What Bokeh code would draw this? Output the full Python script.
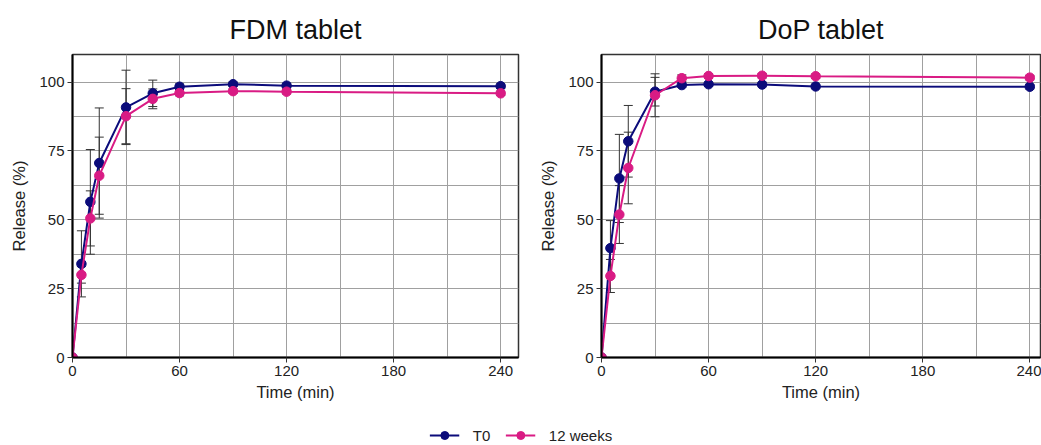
from bokeh.plotting import figure
from bokeh.models import (ColumnDataSource, Whisker, TeeHead, FixedTicker, Range1d,
                          Legend, LegendItem)
from bokeh.layouts import column, row
from bokeh.embed import file_html
from bokeh.resources import INLINE

# ---- data ----
time_min = [0, 5, 10, 15, 30, 45, 60, 90, 120, 240]

fdm_t0 = [0, 34.0, 56.5, 70.6, 90.8, 95.9, 98.3, 99.2, 98.7, 98.5]
fdm_t0_sd = [0, 12.0, 19.0, 20.0, 13.5, 4.8, 1.0, 0.8, 0.8, 0.8]
fdm_12w = [0, 30.0, 50.5, 66.0, 87.6, 93.9, 96.0, 96.7, 96.5, 95.9]
fdm_12w_sd = [0, 3.0, 10.0, 14.0, 10.0, 3.6, 1.0, 0.8, 0.8, 0.8]

dop_t0 = [0, 39.7, 65.0, 78.5, 96.5, 98.9, 99.2, 99.1, 98.4, 98.3]
dop_t0_sd = [0, 10.0, 16.0, 13.0, 5.2, 0.8, 0.8, 0.8, 0.8, 0.8]
dop_12w = [0, 29.6, 51.9, 68.8, 95.2, 101.4, 102.2, 102.3, 102.1, 101.6]
dop_12w_sd = [0, 6.0, 10.5, 13.0, 7.8, 1.2, 0.8, 0.8, 0.8, 0.8]

series_names = ["T0", "12 weeks"]
series_colors = ["#0b0b7a", "#d91b84"]
x_ticks = [0, 60, 120, 180, 240]
y_ticks = [0, 25, 50, 75, 100]
x_grid = [30, 60, 90, 120, 150, 180, 210, 240]
y_grid = [12.5, 25, 37.5, 50, 62.5, 75, 87.5, 100]

FONT = "Liberation Sans"


def make_panel(title, t0, t0_sd, w12, w12_sd, width, x_end, left, right):
    p = figure(width=width, height=410, output_backend="svg", toolbar_location=None,
               x_range=Range1d(0, x_end), y_range=Range1d(0, 110),
               min_border_left=left, min_border_right=right,
               min_border_top=54, min_border_bottom=53)
    p.title.text = title
    p.title.align = "center"
    p.title.text_font = FONT
    p.title.text_font_size = "27px"
    p.title.text_font_style = "normal"
    p.title.text_color = "#111111"
    p.title.standoff = 20

    p.xaxis.ticker = FixedTicker(ticks=x_ticks)
    p.yaxis.ticker = FixedTicker(ticks=y_ticks)
    p.xgrid.ticker = FixedTicker(ticks=x_grid)
    p.ygrid.ticker = FixedTicker(ticks=y_grid)
    for g in (p.xgrid, p.ygrid):
        g.grid_line_color = "#a0a0a0"
        g.grid_line_width = 1
    for ax in (p.xaxis, p.yaxis):
        ax.axis_line_color = "#000000"
        ax.axis_line_width = 2
        ax.major_tick_line_color = "#333333"
        ax.major_tick_out = 5
        ax.major_tick_in = 0
        ax.minor_tick_line_color = None
        ax.major_label_text_font = FONT
        ax.major_label_text_font_size = "15px"
        ax.major_label_text_color = "#222222"
        ax.axis_label_text_font = FONT
        ax.axis_label_text_font_size = "16.5px"
        ax.axis_label_text_font_style = "normal"
        ax.axis_label_text_color = "#222222"
        ax.major_label_standoff = 3
    p.xaxis.axis_label = "Time (min)"
    p.yaxis.axis_label = "Release (%)"
    p.xaxis.axis_label_standoff = 4
    p.yaxis.axis_label_standoff = 8
    p.outline_line_color = "#333333"
    p.outline_line_width = 1.5

    for vals, sd, col in ((t0, t0_sd, series_colors[0]), (w12, w12_sd, series_colors[1])):
        src = ColumnDataSource(dict(x=time_min, y=vals,
                                    lo=[v - s for v, s in zip(vals, sd)],
                                    hi=[v + s for v, s in zip(vals, sd)]))
        wh = Whisker(source=src, base="x", lower="lo", upper="hi",
                     line_color="#333333", line_width=1,
                     upper_head=TeeHead(size=9, line_color="#333333", line_width=1),
                     lower_head=TeeHead(size=9, line_color="#333333", line_width=1))
        p.add_layout(wh)
        p.line("x", "y", source=src, line_color=col, line_width=2)
        p.scatter("x", "y", source=src, size=9.5, fill_color=col, line_color=col)
    return p


p1 = make_panel("FDM tablet", fdm_t0, fdm_t0_sd, fdm_12w, fdm_12w_sd,
                width=530, x_end=250, left=72, right=12)
p2 = make_panel("DoP tablet", dop_t0, dop_t0_sd, dop_12w, dop_12w_sd,
                width=511, x_end=246, left=71, right=1)

# legend strip
pl = figure(width=1041, height=35, output_backend="svg", toolbar_location=None,
            x_range=Range1d(0, 1), y_range=Range1d(0, 1),
            min_border=0)
pl.axis.visible = False
pl.grid.visible = False
pl.outline_line_color = None
items = []
for name, col in zip(series_names, series_colors):
    src = ColumnDataSource(dict(x=[-5, -6], y=[-5, -6]))
    r1 = pl.line("x", "y", source=src, line_color=col, line_width=2)
    r2 = pl.scatter("x", "y", source=src, size=8, fill_color=col, line_color=col)
    items.append(LegendItem(label=name, renderers=[r1, r2]))
leg = Legend(items=items, orientation="horizontal", location="bottom_center",
             label_text_font=FONT, label_text_font_size="15px",
             label_text_color="#222222", glyph_width=30, spacing=12,
             border_line_color=None, background_fill_alpha=0,
             padding=0, margin=0, label_standoff=14)
pl.add_layout(leg, "center")

layout = column(row(p1, p2), pl)
open("out.html", "w").write(file_html(layout, INLINE))
